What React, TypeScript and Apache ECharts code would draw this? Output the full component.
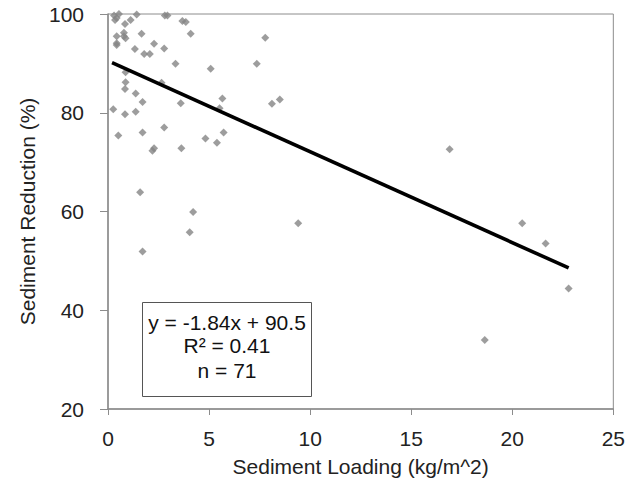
import React, { useEffect, useRef } from "react";
import * as echarts from "echarts";

// Sediment loading (kg/m^2) and sediment reduction (%) for each visible observation
const loadingX: number[] = [
  0.3, 0.43, 0.54, 0.35, 0.84, 1.12, 1.42, 2.81, 2.94, 3.68, 3.85, 4.09,
  0.43, 0.43, 0.43, 0.79, 0.79, 0.87, 1.66, 2.28, 1.33, 2.78, 1.79, 2.07,
  3.34, 5.08, 7.36, 7.78,
  0.87, 0.87, 0.84, 1.37, 2.65, 1.71, 3.6, 0.26, 0.84, 1.37,
  5.66, 5.52, 5.72, 4.82, 5.39, 3.63,
  0.51, 1.71, 2.78, 2.2, 2.28,
  1.59, 4.21, 4.04, 1.71, 9.41, 8.11, 8.5, 16.9, 20.49, 21.65, 22.79, 18.64,
];
const reductionY: number[] = [
  99.7, 99.2, 100, 98.8, 98.0, 98.8, 99.9, 99.7, 99.7, 98.6, 98.4, 96.0,
  95.5, 94.1, 93.7, 96.2, 95.5, 95.1, 96.0, 94.0, 92.9, 93.0, 91.9, 91.9,
  89.9, 88.9, 89.9, 95.2,
  88.2, 86.2, 84.8, 83.9, 86.1, 82.2, 81.9, 80.7, 79.7, 80.2,
  82.9, 80.9, 76.0, 74.8, 73.9, 72.8,
  75.4, 76.0, 77.0, 72.3, 72.8,
  63.9, 59.9, 55.8, 51.9, 57.6, 81.8, 82.7, 72.6, 57.6, 53.5, 44.4, 34.0,
];

// Linear trend line end points (y = -1.84x + 90.5)
const trendX: number[] = [0.2, 22.79];
const trendY: number[] = [90.13, 48.57];

const xTicks = { min: 0, max: 25, interval: 5 };
const yTicks = { min: 20, max: 100, interval: 20 };

const statLines: string[] = ["y = -1.84x + 90.5", "R² = 0.41", "n = 71"];

const FONT = "Liberation Sans, Arial, sans-serif";

export default function App() {
  const ref = useRef<HTMLDivElement>(null);
  useEffect(() => {
    if (!ref.current) return;
    const chart = echarts.init(ref.current, null, { renderer: "svg" });
    const points = loadingX.map((x, i) => [x, reductionY[i]]);
    const trend = trendX.map((x, i) => [x, trendY[i]]);
    const axisColor = "#8c8c8c";
    chart.setOption({
      animation: false,
      backgroundColor: "#ffffff",
      textStyle: { fontFamily: FONT },
      grid: {
        left: 108,
        right: 14,
        top: 14,
        bottom: 77,
        show: true,
        borderColor: axisColor,
        borderWidth: 1,
      },
      xAxis: {
        type: "value",
        min: xTicks.min,
        max: xTicks.max,
        interval: xTicks.interval,
        name: "Sediment Loading (kg/m^2)",
        nameLocation: "middle",
        nameGap: 47,
        nameTextStyle: { fontSize: 21, color: "#222", fontFamily: FONT },
        axisLine: { show: true, lineStyle: { color: axisColor, width: 1.5 } },
        axisTick: { show: true, inside: false, length: 6, lineStyle: { color: axisColor } },
        axisLabel: { fontSize: 21, color: "#222", margin: 19, fontFamily: FONT },
        splitLine: { show: false },
      },
      yAxis: {
        type: "value",
        min: yTicks.min,
        max: yTicks.max,
        interval: yTicks.interval,
        name: "Sediment Reduction (%)",
        nameLocation: "middle",
        nameGap: 58,
        nameTextStyle: { fontSize: 21, color: "#222", fontFamily: FONT },
        axisLine: { show: true, lineStyle: { color: axisColor, width: 1.5 } },
        axisTick: { show: true, inside: false, length: 8, lineStyle: { color: axisColor } },
        axisLabel: { fontSize: 21, color: "#222", margin: 24, fontFamily: FONT },
        splitLine: { show: false },
      },
      series: [
        {
          type: "scatter",
          data: points,
          symbol: "diamond",
          symbolSize: 8,
          itemStyle: { color: "#858585" },
          z: 2,
        },
        {
          type: "line",
          data: trend,
          symbol: "none",
          lineStyle: { color: "#000", width: 3.6 },
          z: 3,
        },
      ],
      graphic: [
        {
          type: "rect",
          shape: { x: 142.5, y: 302.5, width: 169, height: 94 },
          style: { fill: "#fff", stroke: "#555", lineWidth: 1 },
          z: 10,
        },
        ...statLines.map((t, i) => ({
          type: "text",
          x: 227,
          y: [322, 345, 370][i],
          z: 11,
          style: {
            text: t,
            fontSize: 21,
            fontFamily: FONT,
            fill: "#111",
            align: "center",
            verticalAlign: "middle",
          },
        })),
      ],
    });
    return () => chart.dispose();
  }, []);
  return (
    <div
      ref={ref}
      style={{ position: "absolute", left: 0, top: 0, width: 628, height: 486 }}
    />
  );
}
